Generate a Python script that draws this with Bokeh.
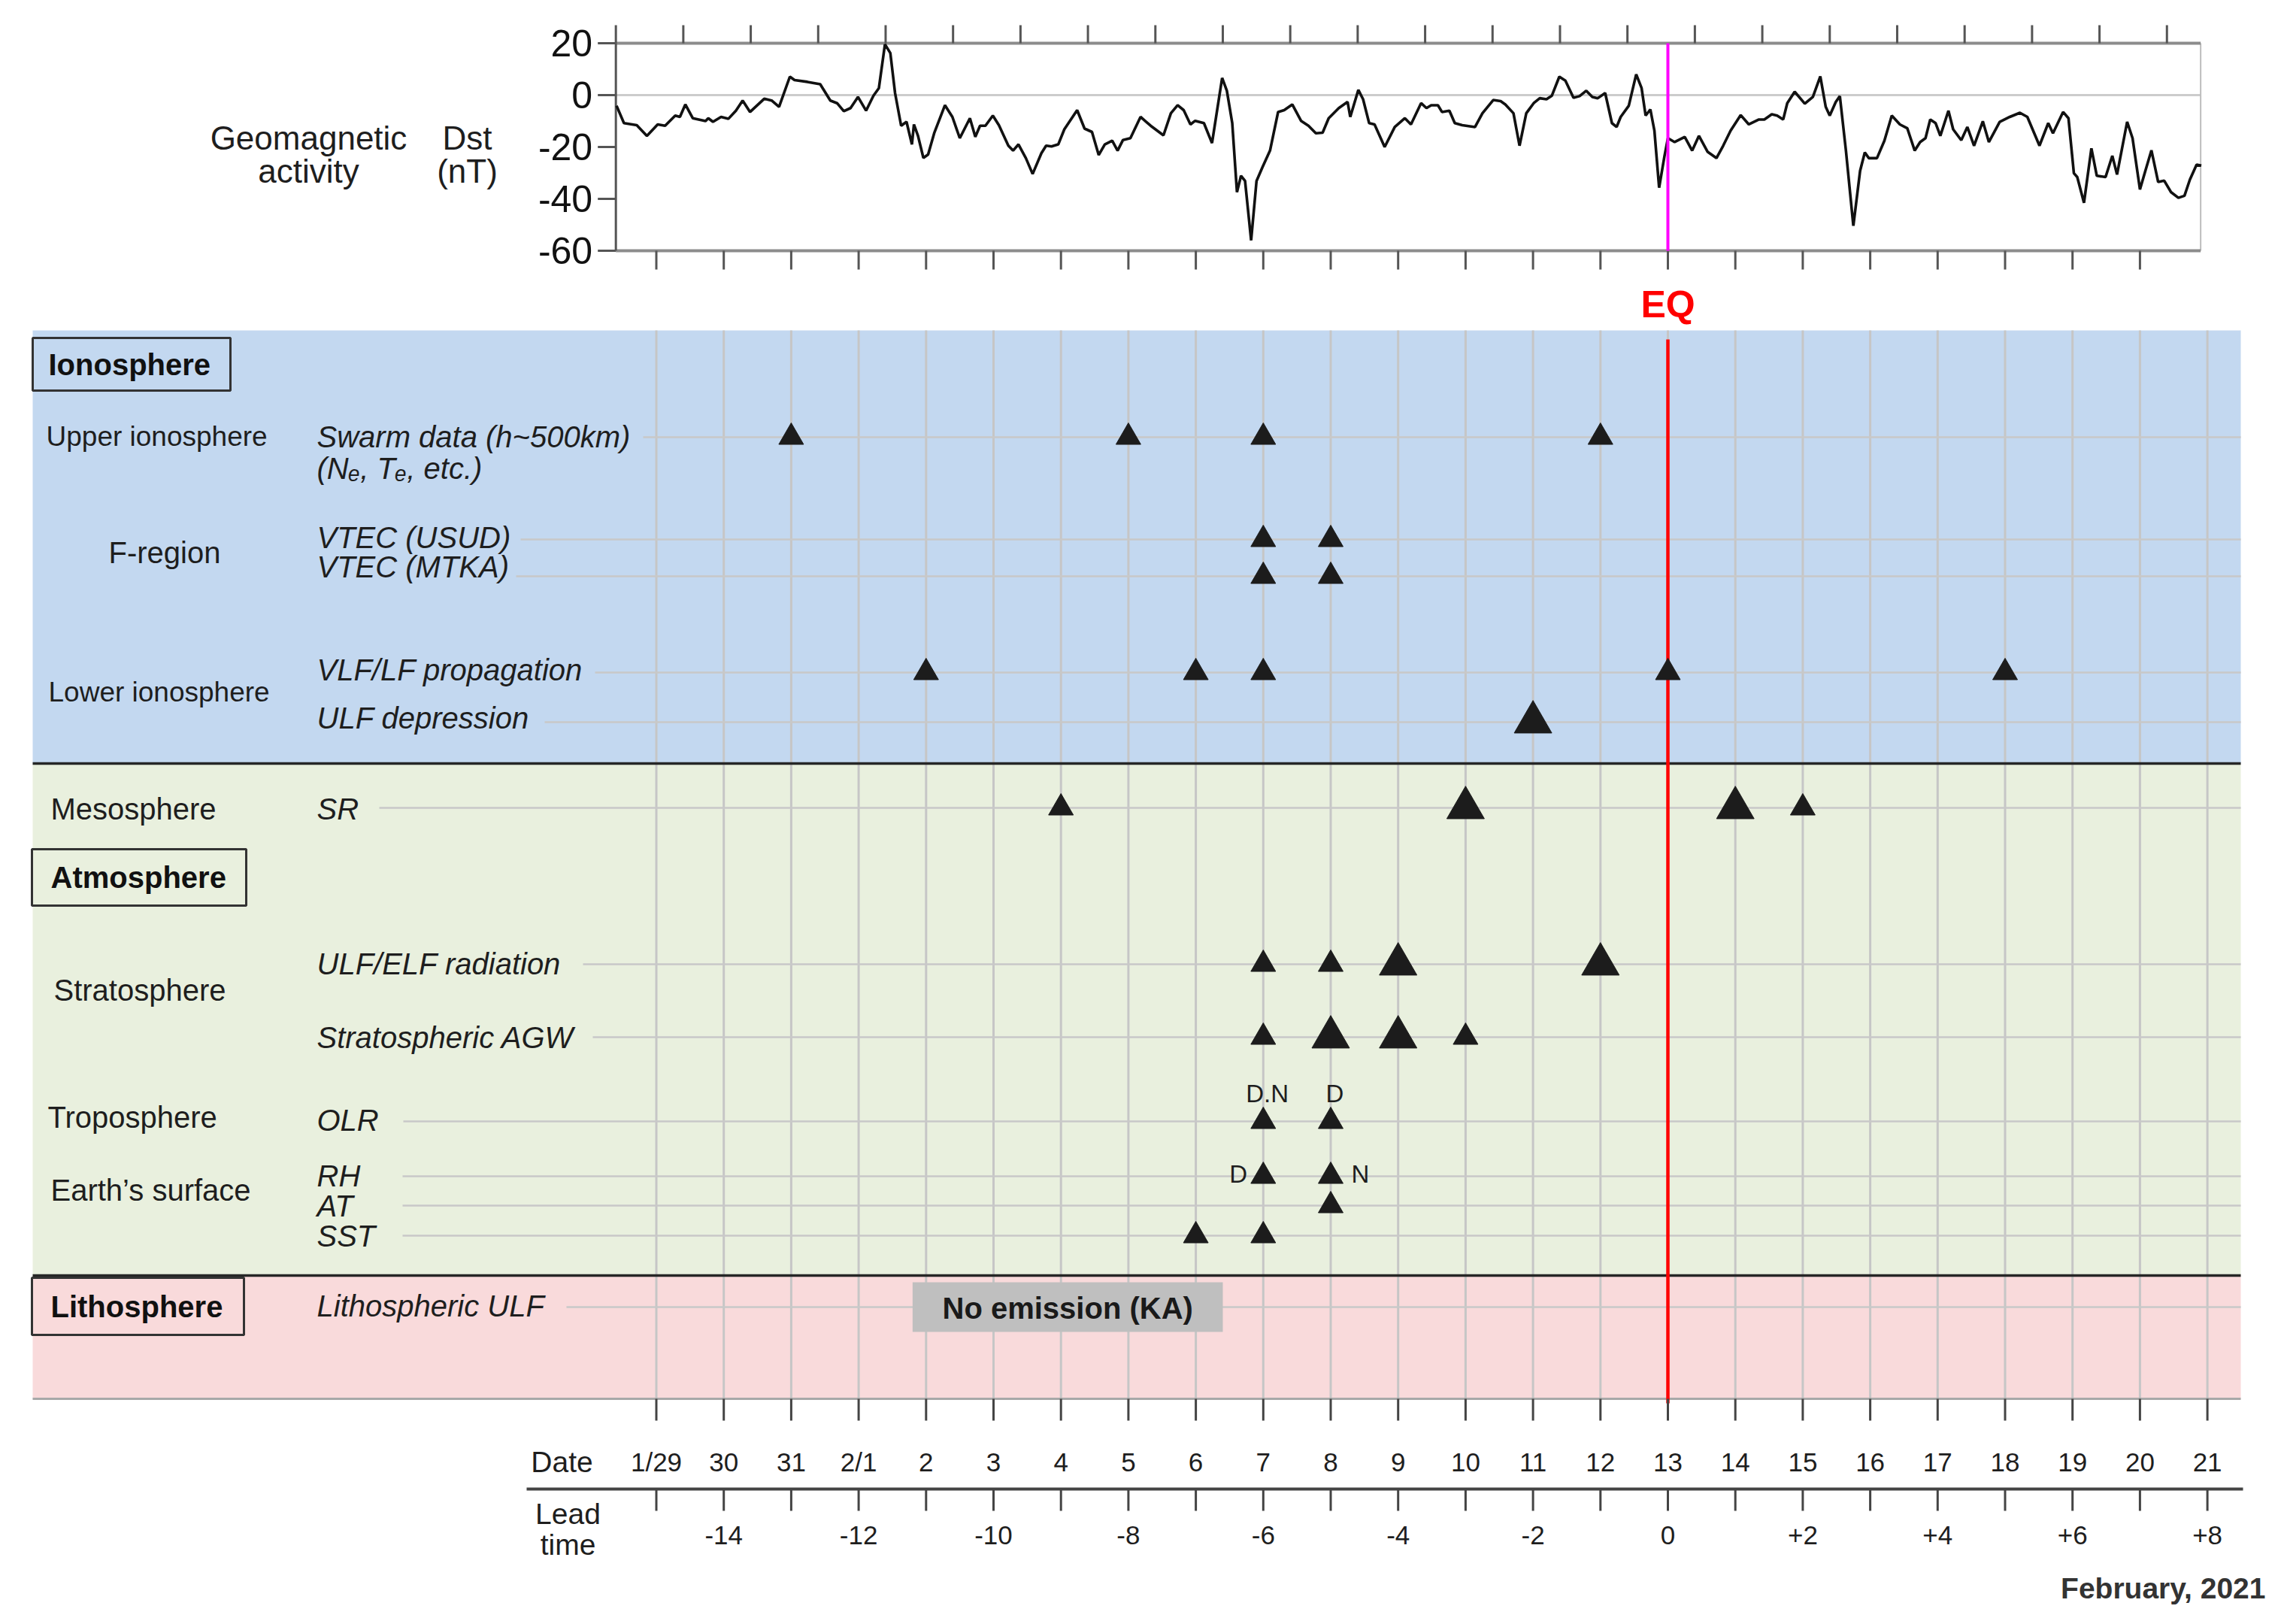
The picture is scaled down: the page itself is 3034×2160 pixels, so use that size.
from bokeh.plotting import figure
from bokeh.models import Range1d
from bokeh.core.properties import value
from bokeh.embed import file_html
from bokeh.resources import INLINE

# ---------------- data ----------------
# Dst index (nT) versus lead time (days relative to the EQ of 13 Feb 2021)
dst_lead = [-15.59, -15.48, -15.29, -15.14, -14.98, -14.87, -14.72, -14.65, -14.57, -14.46,
            -14.27, -14.23, -14.16, -14.04, -13.93, -13.82, -13.72, -13.61, -13.40, -13.29,
            -13.18, -13.02, -12.95, -12.76, -12.57, -12.42, -12.32, -12.22, -12.12, -12.01,
            -11.89, -11.78, -11.70, -11.61, -11.53, -11.46, -11.37, -11.29, -11.21, -11.18,
            -11.12, -11.04, -10.97, -10.88, -10.72, -10.61, -10.50, -10.35, -10.27, -10.20,
            -10.12, -10.01, -9.92, -9.78, -9.71, -9.63, -9.52, -9.42, -9.29, -9.22,
            -9.14, -9.04, -8.95, -8.76, -8.65, -8.54, -8.44, -8.35, -8.24, -8.16,
            -8.08, -7.97, -7.82, -7.67, -7.48, -7.37, -7.27, -7.18, -7.08, -7.01,
            -6.88, -6.76, -6.61, -6.54, -6.46, -6.39, -6.33, -6.27, -6.18, -6.10,
            -6.01, -5.90, -5.78, -5.69, -5.57, -5.44, -5.33, -5.22, -5.12, -5.03,
            -4.88, -4.75, -4.71, -4.59, -4.52, -4.43, -4.35, -4.20, -4.05, -3.90,
            -3.81, -3.66, -3.58, -3.51, -3.41, -3.35, -3.24, -3.16, -3.05, -2.86,
            -2.75, -2.59, -2.48, -2.41, -2.29, -2.20, -2.10, -1.99, -1.90, -1.80,
            -1.72, -1.61, -1.52, -1.40, -1.31, -1.21, -1.12, -1.04, -0.93, -0.83,
            -0.76, -0.70, -0.58, -0.47, -0.39, -0.33, -0.26, -0.20, -0.13, -0.05,
            0.00, 0.10, 0.25, 0.36, 0.46, 0.59, 0.72, 0.82, 0.93, 1.08,
            1.20, 1.35, 1.43, 1.54, 1.62, 1.71, 1.77, 1.88, 2.03, 2.15,
            2.26, 2.34, 2.40, 2.49, 2.55, 2.64, 2.75, 2.85, 2.92, 2.98,
            3.10, 3.21, 3.32, 3.44, 3.55, 3.66, 3.74, 3.82, 3.89, 3.97,
            4.04, 4.16, 4.23, 4.35, 4.44, 4.54, 4.67, 4.76, 4.92, 5.07,
            5.22, 5.33, 5.51, 5.64, 5.71, 5.86, 5.94, 6.02, 6.07, 6.17,
            6.28, 6.36, 6.49, 6.59, 6.66, 6.81, 6.89, 7.00, 7.08, 7.17,
            7.27, 7.36, 7.46, 7.57, 7.66, 7.74, 7.84, 7.91]
dst_nT = [-4.1, -10.8, -11.6, -15.7, -11.3, -11.8, -7.9, -8.4, -3.6, -8.9,
          -10.0, -8.9, -10.3, -8.4, -9.1, -6.0, -2.1, -6.5, -1.4, -2.1,
          -4.5, 7.1, 5.8, 5.1, 4.2, -2.1, -3.1, -6.2, -5.0, -0.7,
          -6.0, -0.2, 2.7, 19.6, 16.2, 0.8, -11.8, -10.3, -19.0, -11.3,
          -15.7, -24.2, -22.9, -14.7, -3.9, -8.4, -16.6, -8.9, -16.1, -11.8,
          -11.8, -7.9, -11.6, -19.5, -21.4, -19.0, -24.3, -30.4, -22.4, -19.5,
          -19.8, -19.0, -13.2, -5.8, -12.9, -14.2, -23.1, -19.0, -17.6, -21.4,
          -17.3, -16.6, -8.4, -11.8, -15.5, -7.0, -3.9, -5.8, -11.3, -9.9,
          -10.8, -18.5, 6.6, 1.7, -10.8, -37.4, -31.1, -33.1, -56.0, -33.1,
          -27.7, -21.4, -6.5, -5.8, -3.6, -9.9, -11.8, -14.7, -14.5, -8.9,
          -5.0, -2.6, -8.4, 2.0, -1.6, -10.8, -11.3, -20.0, -12.3, -8.9,
          -11.3, -3.1, -5.0, -3.9, -3.9, -6.5, -6.0, -10.8, -11.6, -12.3,
          -7.0, -1.9, -2.3, -3.6, -7.0, -19.5, -7.0, -3.1, -1.2, -1.6,
          -0.2, 7.1, 5.6, -1.0, -0.4, 1.7, -0.7, -1.2, 0.8, -10.8,
          -12.3, -8.4, -4.1, 8.0, 2.7, -7.9, -5.5, -13.7, -35.7, -23.4,
          -16.6, -18.1, -16.1, -21.4, -15.7, -21.9, -24.3, -19.5, -13.7, -7.7,
          -11.3, -9.4, -9.4, -7.4, -7.9, -9.4, -3.1, 1.3, -3.3, -0.7,
          7.2, -4.5, -7.9, -2.6, -0.4, -21.4, -50.4, -29.2, -22.1, -24.3,
          -24.3, -17.6, -7.9, -11.3, -12.8, -21.4, -18.1, -16.6, -9.4, -10.8,
          -15.7, -6.0, -13.2, -17.4, -12.3, -19.5, -10.1, -18.1, -10.3, -8.4,
          -6.8, -8.4, -19.5, -10.8, -14.7, -6.5, -8.9, -30.1, -31.6, -41.5,
          -20.5, -31.1, -31.6, -23.4, -30.6, -10.3, -16.6, -36.4, -29.2, -21.3,
          -33.5, -33.0, -37.4, -39.6, -38.8, -32.6, -26.8, -27.2]
dst_ticks = [20, 0, -20, -40, -60]

eq_lead = 0
date_lead = list(range(-15, 9))
date_labels = ["1/29", "30", "31", "2/1", "2", "3", "4", "5", "6", "7", "8", "9", "10",
               "11", "12", "13", "14", "15", "16", "17", "18", "19", "20", "21"]
lead_ticks = [-14, -12, -10, -8, -6, -4, -2, 0, 2, 4, 6, 8]
lead_labels = ["-14", "-12", "-10", "-8", "-6", "-4", "-2", "0", "+2", "+4", "+6", "+8"]

# anomaly days (lead time) per observable; small / large triangles
small_swarm = [-13, -8, -6, -1]
small_vtec_usud = [-6, -5]
small_vtec_mtka = [-6, -5]
small_vlf = [-11, -7, -6, 0, 5]
large_ulf_dep = [-2]
small_sr = [-9, 2]
large_sr = [-3, 1]
small_ulf_elf = [-6, -5]
large_ulf_elf = [-4, -1]
small_agw = [-6, -3]
large_agw = [-5, -4]
small_olr = [-6, -5]
small_rh = [-6, -5]
small_at = [-5]
small_sst = [-7, -6]
olr_notes = [(-6, "D.N"), (-5, "D")]
rh_notes = [(-6, "D"), (-5, "N")]
no_emission = [-11.2, -6.6]

# ---------------- layout ----------------
W, H = 3018, 2144
OFF = 8             # content offset inside the page (px)
DAY = 89.7          # pixels per day
X0 = 2210           # pixel of lead time 0
FONT = "Liberation Sans"
TXT = "#1e1e1e"


def lead_of(px):
    return (px - X0) / DAY


# Dst panel geometry: 20 nT at y=49 px, -60 nT at y=325 px
DST_TOP_PX, DST_BOT_PX = 49, 325
NT_PER_PX = 80.0 / (DST_BOT_PX - DST_TOP_PX)
dst_range = Range1d(20 - (H - OFF - DST_TOP_PX) * NT_PER_PX, 20 + (DST_TOP_PX + OFF) * NT_PER_PX)
dst_left, dst_right = -15.6, 7.9

p = figure(width=W, height=H, x_range=Range1d(lead_of(-OFF), lead_of(W - OFF)),
           y_range=Range1d(H - OFF, -OFF),
           min_border=0, toolbar_location=None, output_backend="svg",
           x_axis_location=None, y_axis_location=None,
           background_fill_color="white", border_fill_color="white")
p.extra_x_ranges = {"px": Range1d(-OFF, W - OFF)}
p.extra_y_ranges = {"dst": dst_range}
p.outline_line_color = None
p.grid.visible = False


def text(xs, ys, texts, size, style="normal", align="left", color=TXT, xr=None, yr=None,
         baseline="middle"):
    kw = dict(text_font=value(FONT), text_font_size=size, text_font_style=style,
              text_align=align, text_baseline=baseline, text_color=color)
    if xr:
        kw["x_range_name"] = xr
    if yr:
        kw["y_range_name"] = yr
    p.text(x=xs, y=ys, text=texts, **kw)


# ---- Dst panel ----
tick_day = 24.0 / DAY
tick_nT = 24.0 * NT_PER_PX
p.segment(x0=[dst_left], x1=[dst_right], y0=[0], y1=[0], line_color="#cccccc", line_width=3,
          y_range_name="dst")
p.segment(x0=[dst_right], x1=[dst_right], y0=[-60], y1=[20], line_color="#bdbdbd", line_width=2,
          y_range_name="dst")
p.segment(x0=[dst_left, dst_left], x1=[dst_right, dst_right], y0=[20, -60], y1=[20, -60],
          line_color="#8c8c8c", line_width=4, y_range_name="dst")
top_ticks = [dst_left + k for k in range(24)]
p.segment(x0=top_ticks, x1=top_ticks, y0=[20] * 24, y1=[20 + tick_nT] * 24,
          line_color="#555555", line_width=3, y_range_name="dst")
bot_ticks = [d for d in date_lead if d <= dst_right]
p.segment(x0=bot_ticks, x1=bot_ticks, y0=[-60] * len(bot_ticks),
          y1=[-60 - 25 * NT_PER_PX] * len(bot_ticks), line_color="#555555", line_width=3,
          y_range_name="dst")
p.segment(x0=[dst_left], x1=[dst_left], y0=[-60], y1=[20], line_color="#555555", line_width=3,
          y_range_name="dst")
p.segment(x0=[dst_left - tick_day] * 5, x1=[dst_left] * 5, y0=dst_ticks, y1=dst_ticks,
          line_color="#555555", line_width=3, y_range_name="dst")
text([dst_left - 31.0 / DAY] * 5, dst_ticks, [str(v) for v in dst_ticks], "50px", align="right",
     color="#111111", yr="dst")
p.line(dst_lead, dst_nT, line_color="#111111", line_width=3.6, y_range_name="dst")
p.segment(x0=[eq_lead], y0=[-60], x1=[eq_lead], y1=[20], line_color="#ff00ff", line_width=4,
          y_range_name="dst")
text([402, 402, 613, 613], [175, 219, 175, 219], ["Geomagnetic", "activity", "Dst", "(nT)"],
     "44px", align="center", xr="px")

# ---- main panel ----
BLUE, GREEN, PINK = "#c3d8f0", "#e9f0de", "#f9dadb"
PL, PR = 35, 2972
p.quad(left=[PL] * 3, right=[PR] * 3, top=[431, 1007, 1688], bottom=[1007, 1688, 1852],
       fill_color=[BLUE, GREEN, PINK], line_color=None, x_range_name="px")

p.segment(x0=date_lead, x1=date_lead, y0=[431] * len(date_lead), y1=[1852] * len(date_lead),
          line_color="#c6c6c6", line_width=3)

row_y = {"swarm": 573, "usud": 709, "mtka": 758, "vlf": 886, "ulfdep": 952, "sr": 1066,
         "ulfelf": 1274, "agw": 1371, "olr": 1483, "rh": 1556, "at": 1595, "sst": 1635,
         "litho": 1730}
row_start = {"swarm": 847, "usud": 684, "mtka": 678, "vlf": 783, "ulfdep": 716, "sr": 496,
             "ulfelf": 767, "agw": 780, "olr": 528, "rh": 527, "at": 527, "sst": 527,
             "litho": 745}
keys = list(row_y)
p.segment(x0=[row_start[k] for k in keys], x1=[PR] * len(keys), y0=[row_y[k] for k in keys],
          y1=[row_y[k] for k in keys], line_color="#c8c8c8", line_width=2.5, x_range_name="px")

p.segment(x0=[PL, PL], x1=[PR, PR], y0=[1007, 1688], y1=[1007, 1688], line_color="#262626",
          line_width=3.5, x_range_name="px")
p.segment(x0=[PL], x1=[PR], y0=[1852], y1=[1852], line_color="#a8a8a8", line_width=3,
          x_range_name="px")

p.quad(left=[35, 34, 34], right=[298, 319, 316], top=[441, 1121, 1691], bottom=[511, 1196, 1767],
       fill_color=[BLUE, GREEN, PINK], line_color="#333333", line_width=3, x_range_name="px")

p.quad(left=[no_emission[0]], right=[no_emission[1]], top=[1697], bottom=[1763],
       fill_color="#bfbfbf", line_color=None)

p.segment(x0=[eq_lead], x1=[eq_lead], y0=[443], y1=[1858], line_color="#ff0000", line_width=4.5)

sx, sy, lx, ly = [], [], [], []
for key, days in [("swarm", small_swarm), ("usud", small_vtec_usud), ("mtka", small_vtec_mtka),
                  ("vlf", small_vlf), ("sr", small_sr), ("ulfelf", small_ulf_elf),
                  ("agw", small_agw), ("olr", small_olr), ("rh", small_rh), ("at", small_at),
                  ("sst", small_sst)]:
    sx += days
    sy += [row_y[key]] * len(days)
for key, days in [("ulfdep", large_ulf_dep), ("sr", large_sr), ("ulfelf", large_ulf_elf),
                  ("agw", large_agw)]:
    lx += days
    ly += [row_y[key]] * len(days)
p.scatter(sx, sy, marker="triangle", size=33, fill_color="#1c1c1c", line_color="#1c1c1c",
          line_width=1)
p.scatter(lx, ly, marker="triangle", size=50, fill_color="#1c1c1c", line_color="#1c1c1c",
          line_width=1)

text([d + 0.06 for d, _ in olr_notes], [1446, 1446], [t for _, t in olr_notes], "33px",
     align="center")
text([rh_notes[0][0] - 0.37, rh_notes[1][0] + 0.44], [1553, 1553], [t for _, t in rh_notes],
     "33px", align="center")

text([(no_emission[0] + no_emission[1]) / 2], [1731], ["No emission (KA)"], "40px", style="bold",
     align="center", color="#1a1a1a")

# left labels
text([56, 59, 59], [476, 1158, 1729], ["Ionosphere", "Atmosphere", "Lithosphere"], "40px",
     style="bold", xr="px", color="#111111")
text([53, 56], [572, 912], ["Upper ionosphere", "Lower ionosphere"], "37px", xr="px")
text([136, 59, 63, 55, 59], [726, 1067, 1308, 1477, 1574],
     ["F-region", "Mesosphere", "Stratosphere", "Troposphere", "Earth\u2019s surface"],
     "40px", xr="px")
text([413] * 14, [572, 614, 706, 745, 882, 946, 1067, 1273, 1371, 1481, 1555, 1595, 1635, 1728],
     ["Swarm data (h~500km)", "(N\u2091, T\u2091, etc.)", "VTEC (USUD)", "VTEC (MTKA)",
      "VLF/LF propagation", "ULF depression", "SR", "ULF/ELF radiation", "Stratospheric AGW",
      "OLR", "RH", "AT", "SST", "Lithospheric ULF"], "40px", style="italic", xr="px")

text([eq_lead], [396], ["EQ"], "50px", style="bold", align="center", color="#ff0000")

# date axis
p.segment(x0=date_lead, x1=date_lead, y0=[1852] * 24, y1=[1881] * 24, line_color="#444444",
          line_width=3)
text(date_lead, [1936] * 24, date_labels, "35px", align="center")
# lead time axis
p.segment(x0=[692], x1=[2975], y0=[1972], y1=[1972], line_color="#444444", line_width=4,
          x_range_name="px")
p.segment(x0=date_lead, x1=date_lead, y0=[1972] * 24, y1=[2001] * 24, line_color="#444444",
          line_width=3)
text(lead_ticks, [2033] * len(lead_ticks), lead_labels, "35px", align="center")

text([739, 747, 747], [1936, 2005, 2046], ["Date", "Lead", "time"], "39px", align="center",
     xr="px")
text([3005], [2104], ["February, 2021"], "39px", style="bold", align="right", xr="px",
     color="#333333")

open("out.html", "w").write(file_html(p, INLINE))
